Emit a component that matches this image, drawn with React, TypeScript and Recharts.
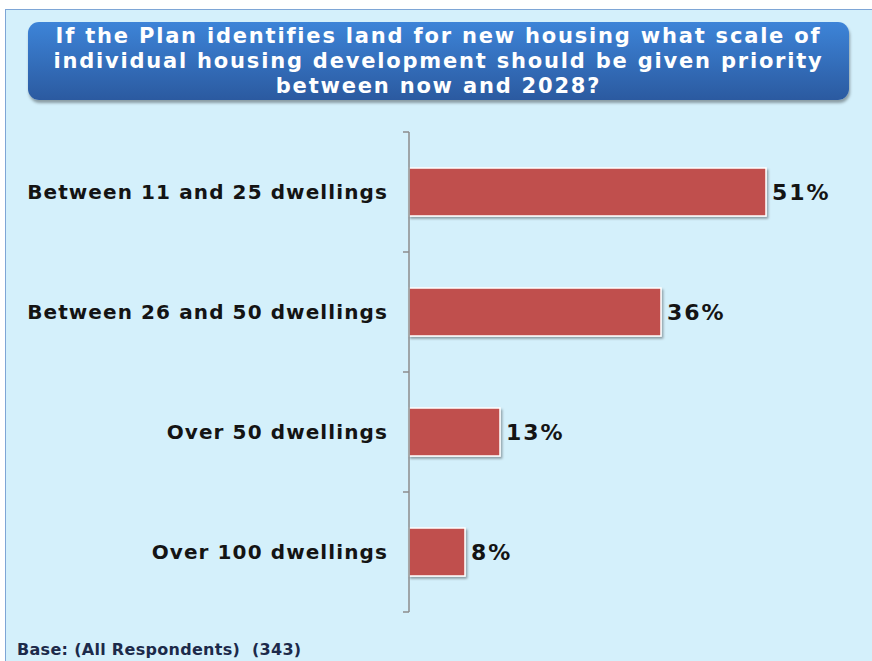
import { BarChart, Bar, XAxis, YAxis, LabelList } from "recharts";

const categories = [
  "Between 11 and 25 dwellings",
  "Between 26 and 50 dwellings",
  "Over 50 dwellings",
  "Over 100 dwellings",
];
const shares = [51, 36, 13, 8];

const TITLE_LINES = [
  "If the Plan identifies land for new housing what scale of",
  "individual housing development should be given priority",
  "between now and 2028?",
];
const BASE_NOTE = "Base: (All Respondents)  (343)";

const data = categories.map((name, i) => ({ name, value: shares[i] }));

const W = 872;
const H = 661;
const MARGIN = { top: 132, right: 43, bottom: 49, left: 0 };
const TICK_GAP = 21;
const band = (H - MARGIN.top - MARGIN.bottom) / categories.length;

// category label plus the boundary tick marks Excel draws between bands
function CategoryTick(props: any) {
  const { x, y, payload, index } = props;
  const ax = x + TICK_GAP;
  return (
    <g>
      <text
        x={x}
        y={y}
        dy={7}
        textAnchor="end"
        fill="#141414"
        fontSize={20}
        fontWeight="bold"
        letterSpacing={1.1}
      >
        {payload.value}
      </text>
      <line x1={ax - 6} x2={ax} y1={y - band / 2} y2={y - band / 2} stroke="#8c8c8c" strokeWidth={1.5} />
      {index === categories.length - 1 && (
        <line x1={ax - 6} x2={ax} y1={y + band / 2} y2={y + band / 2} stroke="#8c8c8c" strokeWidth={1.5} />
      )}
    </g>
  );
}

export default function App() {
  return (
    <div
      style={{
        position: "fixed",
        left: 0,
        top: 0,
        width: W,
        height: H,
        background: "#fff",
        overflow: "hidden",
        fontFamily: "'DejaVu Sans', Verdana, sans-serif",
      }}
    >
      <div
        style={{
          position: "absolute",
          left: 5,
          top: 9,
          width: 900,
          height: 700,
          background: "#d4f0fb",
          border: "1.5px solid #7ea6d6",
        }}
      />
      <div
        style={{
          position: "absolute",
          left: 28,
          top: 22,
          width: 821,
          height: 78,
          borderRadius: 11,
          background: "linear-gradient(#3d84d8, #2b5aa0)",
          boxShadow: "1px 3px 3px rgba(0,0,0,0.35)",
          color: "#fff",
          textAlign: "center",
          fontWeight: "bold",
          fontSize: 21,
          letterSpacing: 1.8,
          lineHeight: "25px",
          paddingTop: 2,
          boxSizing: "border-box",
          whiteSpace: "nowrap",
        }}
      >
        {TITLE_LINES.map((l) => (
          <div key={l}>{l}</div>
        ))}
      </div>
      <div style={{ position: "absolute", left: 0, top: 0 }}>
        <BarChart
          width={W}
          height={H}
          layout="vertical"
          data={data}
          margin={MARGIN}
          barCategoryGap="30%"
        >
          <defs>
            <filter id="barShadow" x="-10%" y="-10%" width="130%" height="140%">
              <feDropShadow dx="1.5" dy="2" stdDeviation="1.2" floodColor="#000" floodOpacity="0.35" />
            </filter>
          </defs>
          <XAxis type="number" domain={[0, 60]} hide />
          <YAxis
            type="category"
            dataKey="name"
            width={409}
            axisLine={{ stroke: "#8c8c8c", strokeWidth: 1.5 }}
            tickLine={false}
            tickSize={0}
            tickMargin={TICK_GAP}
            tick={<CategoryTick />}
          />
          <Bar
            dataKey="value"
            fill="#c0504d"
            stroke="#ffffff"
            strokeWidth={1.5}
            filter="url(#barShadow)"
            isAnimationActive={false}
          >
            <LabelList
              dataKey="value"
              position="right"
              offset={6}
              formatter={(v: number) => `${v}%`}
              style={{ fill: "#141414", fontSize: 22, fontWeight: "bold", letterSpacing: 2 }}
            />
          </Bar>
        </BarChart>
      </div>
      <div
        style={{
          position: "absolute",
          left: 17,
          top: 640,
          fontSize: 16,
          letterSpacing: 0.3,
          fontWeight: "bold",
          color: "#1c2a4a",
          whiteSpace: "pre",
        }}
      >
        {BASE_NOTE}
      </div>
    </div>
  );
}
